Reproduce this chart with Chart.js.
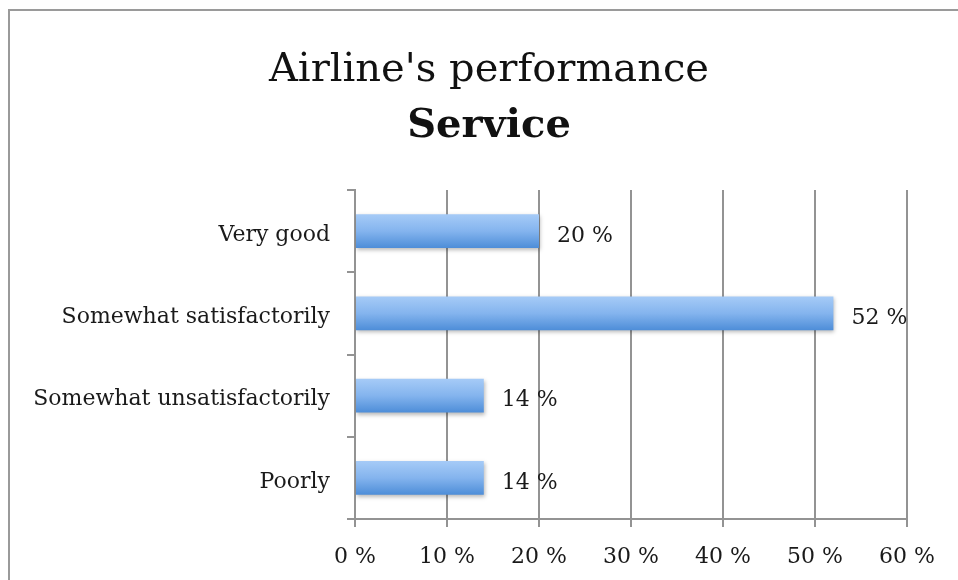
<!DOCTYPE html>
<html>
<head>
<meta charset="utf-8">
<script src="https://cdn.jsdelivr.net/npm/chart.js@4"></script>
<style>
  html, body { margin: 0; padding: 0; background: #fff; overflow: hidden; }
  #wrap { position: relative; width: 958px; height: 580px; }
  #frame { position: absolute; left: 8px; top: 9px; width: 1200px; height: 1200px;
           border-left: 2px solid #9a9a9a; border-top: 2px solid #9a9a9a; pointer-events: none; }
  canvas { position: absolute; left: 0; top: 0; }
</style>
</head>
<body>
<div id="wrap">
  <canvas id="c" width="958" height="580"></canvas>
  <div id="frame"></div>
</div>
<script>
const titleLine1 = "Airline's performance";
const titleLine2 = "Service";
const categories = ["Very good", "Somewhat satisfactorily", "Somewhat unsatisfactorily", "Poorly"];
const values = [20, 52, 14, 14];
const valueLabels = ["20 %", "52 %", "14 %", "14 %"];
const xTicks = [0, 10, 20, 30, 40, 50, 60];

const FONT = "'DejaVu Serif', 'Liberation Serif', serif";
const BAR_PCT = 0.413;

function barFill(c) {
  const ch = c.chart;
  const ys = ch.scales && ch.scales.y;
  if (!ys || c.dataIndex === undefined || !ch.chartArea) return '#74a8ea';
  const yc = ys.getPixelForValue(c.dataIndex);
  const band = Math.abs(ys.getPixelForValue(1) - ys.getPixelForValue(0));
  const t = band * BAR_PCT;
  const g = ch.ctx.createLinearGradient(0, yc - t / 2, 0, yc + t / 2);
  g.addColorStop(0, '#a6cbf7');
  g.addColorStop(0.5, '#84b4ee');
  g.addColorStop(1, '#4d8dd8');
  return g;
}

const titlePlugin = {
  id: 'twoFontTitle',
  afterDraw(chart) {
    const ctx = chart.ctx;
    ctx.save();
    ctx.fillStyle = '#111';
    ctx.textAlign = 'center';
    ctx.textBaseline = 'middle';
    ctx.font = "normal 40px " + FONT;
    ctx.fillText(titleLine1, 489, 71);
    ctx.font = "bold 40px " + FONT;
    ctx.fillText(titleLine2, 489, 127);
    ctx.restore();
  }
};

const shadowPlugin = {
  id: 'barShadow',
  beforeDatasetsDraw(chart) {
    const ctx = chart.ctx;
    ctx.save();
    ctx.shadowColor = 'rgba(0,0,0,0.28)';
    ctx.shadowBlur = 4;
    ctx.shadowOffsetX = 1;
    ctx.shadowOffsetY = 2;
  },
  afterDatasetsDraw(chart) {
    chart.ctx.restore();
    const ctx = chart.ctx;
    const meta = chart.getDatasetMeta(0);
    ctx.save();
    ctx.font = "22px " + FONT;
    ctx.fillStyle = '#1a1a1a';
    ctx.textAlign = 'left';
    ctx.textBaseline = 'middle';
    meta.data.forEach((bar, i) => {
      ctx.fillText(valueLabels[i], bar.x + 18, bar.y + 5);
    });
    ctx.restore();
  }
};

new Chart(document.getElementById('c'), {
  type: 'bar',
  data: {
    labels: categories,
    datasets: [{
      data: values,
      backgroundColor: barFill,
      borderWidth: 0,
      barPercentage: BAR_PCT,
      categoryPercentage: 1
    }]
  },
  options: {
    indexAxis: 'y',
    responsive: false,
    animation: false,
    devicePixelRatio: 1,
    layout: { padding: { left: 0, right: 51, top: 190, bottom: 0 } },
    plugins: {
      legend: { display: false },
      tooltip: { enabled: false },
      title: { display: false },
      subtitle: { display: false }
    },
    scales: {
      x: {
        type: 'linear',
        min: xTicks[0],
        max: xTicks[xTicks.length - 1],
        afterBuildTicks(s) { s.ticks = xTicks.map(v => ({ value: v })); },
        afterFit(s) { s.height = 61; },
        ticks: {
          callback: v => v + ' %',
          color: '#1a1a1a',
          font: { family: FONT, size: 22 },
          padding: 17,
          maxRotation: 0
        },
        grid: { color: '#939393', lineWidth: 2, tickLength: 8, drawOnChartArea: true },
        border: { color: '#939393', width: 2 }
      },
      y: {
        afterFit(s) { s.width = 355; },
        ticks: {
          color: '#1a1a1a',
          font: { family: FONT, size: 22 },
          padding: 17,
          labelOffset: 4
        },
        grid: { color: '#939393', lineWidth: 2, tickLength: 8, drawOnChartArea: false, offset: true },
        border: { color: '#939393', width: 2 }
      }
    }
  },
  plugins: [shadowPlugin, titlePlugin]
});
</script>
</body>
</html>
